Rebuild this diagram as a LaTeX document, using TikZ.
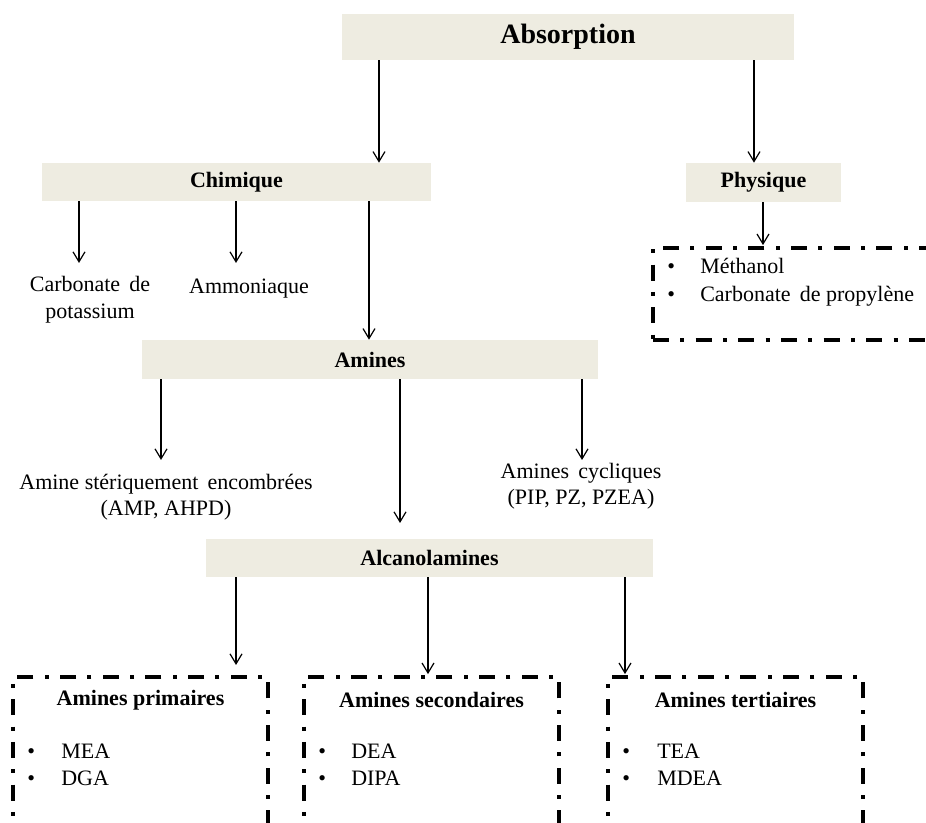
\documentclass[tikz,border=0pt]{standalone}
\usepackage{fontspec}
\setmainfont{Liberation Serif}
\usetikzlibrary{arrows.meta}
\definecolor{beige}{HTML}{EEECE1}
\begin{document}
\begin{tikzpicture}[x=0.75pt,y=-0.75pt,
  font=\fontsize{16.5}{20}\selectfont,
  fbox/.style={fill=beige, draw=none, inner sep=0pt, font=\fontsize{16.5}{20}\selectfont\bfseries},
  arr/.style={-{Straight Barb[length=7.5pt,width=9pt,line width=0.9pt]}, line width=0.9pt},
  ddbox/.style={draw, line width=2.8pt, dash pattern=on 12pt off 8.5pt on 3pt off 8.5pt, inner sep=0pt},
  lbl/.style={inner sep=0pt, align=center},
  item/.style={inner sep=0pt, anchor=base west},
  ttl/.style={inner sep=0pt, font=\fontsize{16.5}{20}\selectfont\bfseries}]
\clip (0,0) rectangle (926,823);
\fill[white] (0,0) rectangle (926,823);

% filled boxes
\node[fbox, minimum width=339pt, minimum height=34.5pt, font=\fontsize{21}{25}\selectfont\bfseries] (abs) at (568,37) {\raisebox{-1.2pt}{Absorption}};
\node[fbox, minimum width=291.75pt, minimum height=28.5pt] (chim) at (236.5,182) {Chimique};
\node[fbox, minimum width=116.25pt, minimum height=29.25pt] (phys) at (763.5,182.5) {Physique};
\node[fbox, minimum width=342pt, minimum height=29.25pt] (amin) at (370,359.5) {Amines};
\node[fbox, minimum width=335.25pt, minimum height=28.5pt] (alca) at (429.5,558) {Alcanolamines};

% dash-dot boxes
\node[ddbox, minimum width=215.25pt, minimum height=69pt] (pbox) at (796.5,294) {};
\node[ddbox, minimum width=191.25pt, minimum height=144.75pt] (b1) at (140.5,773.5) {};
\node[ddbox, minimum width=191.25pt, minimum height=144.75pt] (b2) at (431.5,773.5) {};
\node[ddbox, minimum width=191.25pt, minimum height=144.75pt] (b3) at (735.5,773.5) {};

% labels
\node[lbl, font=\fontsize{16.5}{20.25}\selectfont] (carb) at (90,299.5) {Carbonate\,\ de\\potassium};
\node[lbl] (ammo) at (249,289) {Ammoniaque};
\node[lbl, font=\fontsize{16.5}{19.5}\selectfont] (ster) at (166,497) {Amine st\'eriquement\,\ encombr\'ees\\(AMP, AHPD)};
\node[lbl, font=\fontsize{16.5}{19.5}\selectfont] (cycl) at (581,486) {Amines\,\ cycliques\\(PIP, PZ, PZEA)};

% physique list
\node[item] (pb1) at (667,274) {\textbullet};
\node[item] (pt1) at (700,274) {M\'ethanol};
\node[item] (pb2) at (667,302) {\textbullet};
\node[item] (pt2) at (700,302) {Carbonate\,\ de propyl\`ene};

% bottom boxes content
\node[ttl] (t1) at (140.5,700) {Amines primaires};
\node[item] (b1i1) at (27,759) {\textbullet};
\node[item] (b1t1) at (61,759) {MEA};
\node[item] (b1i2) at (27,786) {\textbullet};
\node[item] (b1t2) at (61,786) {DGA};

\node[ttl] (t2) at (431.5,700) {Amines secondaires};
\node[item] (b2i1) at (318,759) {\textbullet};
\node[item] (b2t1) at (351,759) {DEA};
\node[item] (b2i2) at (318,786) {\textbullet};
\node[item] (b2t2) at (351,786) {DIPA};

\node[ttl] (t3) at (735.5,700) {Amines tertiaires};
\node[item] (b3i1) at (622,759) {\textbullet};
\node[item] (b3t1) at (657,759) {TEA};
\node[item] (b3i2) at (622,786) {\textbullet};
\node[item] (b3t2) at (657,786) {MDEA};

% helper coordinates
\coordinate (xa1) at (379,0);
\coordinate (xa2) at (754,0);
\coordinate (xc1) at (79,0);
\coordinate (xc2) at (236,0);
\coordinate (xc3) at (369,0);
\coordinate (xp1) at (763,0);
\coordinate (xm1) at (161,0);
\coordinate (xm2) at (400,0);
\coordinate (xm3) at (582,0);
\coordinate (xl1) at (236,0);
\coordinate (xl2) at (428,0);
\coordinate (xl3) at (625,0);
\coordinate (tc1) at (79,263);
\coordinate (tc2) at (236,263);
\coordinate (tm1) at (161,460);
\coordinate (tm2) at (400,523);
\coordinate (tm3) at (582,460);
\coordinate (tl1) at (236,665);

% connectors
\draw[arr] (abs.south -| xa1) -- (chim.north -| xa1);
\draw[arr] (abs.south -| xa2) -- (phys.north -| xa2);
\draw[arr] (chim.south -| xc1) -- (tc1);
\draw[arr] (chim.south -| xc2) -- (tc2);
\draw[arr] (chim.south -| xc3) -- (amin.north -| xc3);
\draw[arr] (phys.south -| xp1) -- ([yshift=0.75pt]pbox.north -| xp1);
\draw[arr] (amin.south -| xm1) -- (tm1);
\draw[arr] (amin.south -| xm2) -- (tm2);
\draw[arr] (amin.south -| xm3) -- (tm3);
\draw[arr] (alca.south -| xl1) -- (tl1);
\draw[arr] (alca.south -| xl2) -- ([yshift=0.75pt]b2.north -| xl2);
\draw[arr] (alca.south -| xl3) -- ([yshift=0.75pt]b3.north -| xl3);
\end{tikzpicture}
\end{document}
